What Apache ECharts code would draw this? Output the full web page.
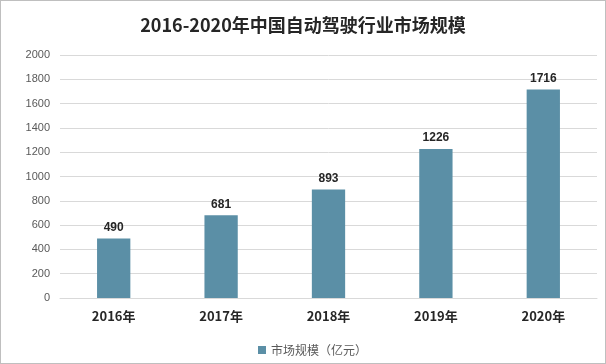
<!DOCTYPE html>
<html><head><meta charset="utf-8">
<script src="https://cdn.jsdelivr.net/npm/echarts@6/dist/echarts.min.js"></script>
<style>
html,body{margin:0;padding:0;background:#fff;}
#c{width:604px;height:362px;border:1px solid #bfbfbf;}
</style></head>
<body><div id="c"></div>
<script>
var categories = ['2016年','2017年','2018年','2019年','2020年'];
var values = [490, 681, 893, 1226, 1716];
var seriesName = '市场规模（亿元）';
var titleText = '2016-2020年中国自动驾驶行业市场规模';

var chart = echarts.init(document.getElementById('c'));
chart.setOption({
  animation: false,
  title: {
    text: titleText, left: 'center', top: 10,
    textStyle: {fontFamily: 'Noto Sans CJK SC', fontSize: 18, fontWeight: 'bold', color: '#262626'}
  },
  grid: {left: 59, right: 8, top: 54, bottom: 65},
  legend: {
    bottom: 2, left: 252, itemWidth: 8, itemHeight: 8, itemGap: 5,
    textStyle: {fontFamily: 'Noto Sans CJK SC', fontSize: 12, color: '#595959'},
    data: [{name: seriesName, icon: 'rect'}]
  },
  xAxis: {
    type: 'category', data: categories,
    axisLine: {lineStyle: {color: '#d9d9d9'}},
    axisTick: {show: false},
    axisLabel: {fontFamily: 'Noto Sans CJK SC', fontSize: 13, fontWeight: 'bold', color: '#262626', margin: 12}
  },
  yAxis: {
    type: 'value', min: 0, max: 2000, interval: 200,
    axisLine: {show: false}, axisTick: {show: false},
    splitLine: {lineStyle: {color: '#d9d9d9'}},
    axisLabel: {fontFamily: 'Liberation Sans', fontSize: 11, color: '#595959', margin: 10,
      formatter: function (v) { return String(v); }}
  },
  series: [{
    name: seriesName, type: 'bar', data: values, barWidth: '31%',
    itemStyle: {color: '#5b8fa6'},
    label: {show: true, position: 'top', distance: 5,
      fontFamily: 'Liberation Sans', fontSize: 12, fontWeight: 'bold', color: '#262626'}
  }]
});
</script></body></html>
